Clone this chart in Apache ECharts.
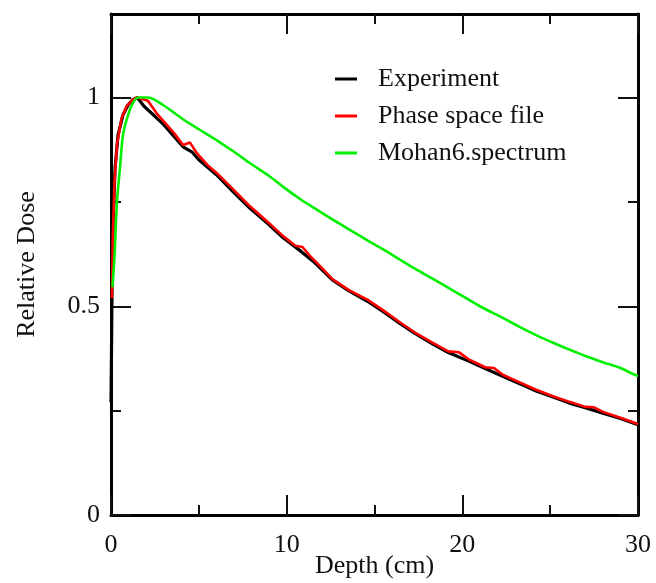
<!DOCTYPE html>
<html lang="en">
<head>
<meta charset="utf-8">
<title>Relative Dose vs Depth</title>
<script src="https://cdn.jsdelivr.net/npm/echarts@6/dist/echarts.min.js"></script>
<style>
  html, body { margin: 0; padding: 0; background: #fff; }
  #main { width: 656px; height: 583px; }
</style>
</head>
<body>
<div id="main"></div>
<script type="text/javascript">
  // depth (cm), relative dose
  var experiment = [
    [0, 0.27], [0.03, 0.40], [0.06, 0.55], [0.12, 0.70], [0.23, 0.83], [0.4, 0.91],
    [0.68, 0.958], [0.97, 0.982], [1.25, 0.995], [1.5, 1.0], [1.9, 0.978], [2.5, 0.955],
    [3.0, 0.935], [3.5, 0.911], [4.1, 0.882], [4.6, 0.870], [5.0, 0.851], [6.0, 0.815],
    [7.0, 0.772], [7.9, 0.735], [9.0, 0.695], [9.8, 0.664], [10.8, 0.632], [11.5, 0.608],
    [12.6, 0.563], [13.5, 0.538], [14.6, 0.512], [15.5, 0.487], [16.4, 0.460], [17.3, 0.435],
    [18.3, 0.410], [19.2, 0.389], [20.4, 0.368], [21.3, 0.351], [22.3, 0.332], [23.3, 0.314],
    [24.2, 0.297], [25.2, 0.282], [26.1, 0.268], [27.0, 0.257], [28.0, 0.244], [29.0, 0.231],
    [30, 0.216]
  ];
  var phaseSpace = [
    [0.05, 0.52], [0.1, 0.66], [0.2, 0.80], [0.35, 0.89], [0.6, 0.95], [0.9, 0.980],
    [1.2, 0.994], [1.5, 1.0], [2.1, 0.992], [2.6, 0.962], [3.1, 0.938], [3.6, 0.914],
    [4.1, 0.886], [4.5, 0.892], [4.9, 0.866], [5.5, 0.838], [6.0, 0.820], [7.0, 0.778],
    [7.9, 0.740], [9.0, 0.699], [9.8, 0.668], [10.5, 0.645], [10.9, 0.642], [11.3, 0.622],
    [12.0, 0.592], [12.6, 0.565], [13.5, 0.540], [14.2, 0.524], [14.6, 0.516], [15.5, 0.490],
    [16.4, 0.463], [17.3, 0.437], [18.3, 0.413], [19.2, 0.392], [19.8, 0.390], [20.4, 0.372],
    [21.3, 0.354], [21.8, 0.352], [22.3, 0.336], [23.3, 0.317], [24.2, 0.300], [25.2, 0.284],
    [26.1, 0.271], [27.0, 0.259], [27.5, 0.258], [28.0, 0.247], [29.0, 0.233], [30, 0.218]
  ];
  var mohan = [
    [0.08, 0.545], [0.2, 0.62], [0.34, 0.75], [0.51, 0.83], [0.68, 0.91], [0.97, 0.958],
    [1.25, 0.987], [1.54, 1.0], [2.1, 1.0], [2.96, 0.982], [4.1, 0.948], [5.0, 0.924],
    [6.0, 0.898], [7.0, 0.870], [7.9, 0.843], [9.0, 0.812], [9.8, 0.786], [10.76, 0.757],
    [11.5, 0.737], [12.6, 0.708], [13.6, 0.683], [14.6, 0.658], [15.5, 0.636], [16.4, 0.613],
    [17.3, 0.590], [18.3, 0.566], [19.5, 0.537], [21.0, 0.500], [22.3, 0.472], [23.2, 0.452],
    [24.2, 0.431], [25.2, 0.412], [26.1, 0.396], [27.0, 0.381], [28.0, 0.366], [29.0, 0.352],
    [29.7, 0.338], [30, 0.333]
  ];
  var seriesNames = ['Experiment', 'Phase space file', 'Mohan6.spectrum'];
  var seriesColors = ['#000000', '#ff0000', '#00ee00'];
  var xMajor = [0, 10, 20, 30];
  var xMinor = [5, 15, 25];
  var yMajor = [0, 0.5, 1];
  var yMinor = [0.25, 0.75];

  var serif = '"Liberation Serif", "DejaVu Serif", serif';
  var gridBox = { left: 111, right: 18, top: 14, bottom: 68, outerBoundsMode: 'none', containLabel: false };

  function axisOf(kind, pos, gridIndex, ticks, len, labels) {
    var isX = kind === 'x';
    return {
      type: 'value',
      gridIndex: gridIndex,
      position: pos,
      min: 0,
      max: isX ? 30 : 1.2,
      interval: isX ? 10 : 0.5,
      splitLine: { show: false },
      axisLine: { show: gridIndex === 0, onZero: false, lineStyle: { color: '#000', width: 3 } },
      axisTick: {
        show: true, inside: true, length: len, customValues: ticks,
        lineStyle: { color: '#111', width: 2 }
      },
      axisLabel: labels ? {
        show: true, customValues: labels, color: '#111', fontFamily: serif, fontSize: 26,
        margin: isX ? 17 : 11,
        formatter: function (v) { return labels.indexOf(v) >= 0 ? String(v) : ''; }
      } : { show: false }
    };
  }

  var myChart = echarts.init(document.getElementById('main'));

  var xAxes = [
    axisOf('x', 'bottom', 0, xMajor, 20, xMajor),
    axisOf('x', 'top', 0, xMajor, 20, null),
    axisOf('x', 'bottom', 1, xMinor, 10, null),
    axisOf('x', 'top', 1, xMinor, 10, null)
  ];
  xAxes[0].name = 'Depth (cm)';
  xAxes[0].nameLocation = 'middle';
  xAxes[0].nameGap = 38;
  xAxes[0].nameMoveOverlap = false;
  xAxes[0].nameTextStyle = { color: '#111', fontFamily: serif, fontSize: 26 };

  var yAxes = [
    axisOf('y', 'left', 0, yMajor, 20, yMajor),
    axisOf('y', 'right', 0, yMajor, 20, null),
    axisOf('y', 'left', 1, yMinor, 10, null),
    axisOf('y', 'right', 1, yMinor, 10, null)
  ];
  yAxes[0].name = 'Relative Dose';
  yAxes[0].nameLocation = 'middle';
  yAxes[0].nameGap = 71;
  yAxes[0].nameMoveOverlap = false;
  yAxes[0].nameTextStyle = { color: '#111', fontFamily: serif, fontSize: 26 };

  var allData = [experiment, phaseSpace, mohan];
  var series = [];
  for (var i = 0; i < allData.length; i++) {
    series.push({
      name: seriesNames[i],
      type: 'line',
      xAxisIndex: 0,
      yAxisIndex: 0,
      data: allData[i],
      symbol: 'none',
      showSymbol: false,
      smooth: i === 2 ? 0.3 : false,
      color: seriesColors[i],
      lineStyle: { color: seriesColors[i], width: i === 0 ? 3.2 : 2.6 }
    });
  }

  var option = {
    animation: false,
    backgroundColor: '#fff',
    grid: [gridBox, gridBox],
    legend: {
      orient: 'vertical',
      left: 330,
      top: 61,
      icon: 'rect',
      itemWidth: 22,
      itemHeight: 3,
      itemGap: 11,
      data: seriesNames,
      textStyle: { color: '#111', fontFamily: serif, fontSize: 26, lineHeight: 26, padding: [0, 0, 0, 16] }
    },
    xAxis: xAxes,
    yAxis: yAxes,
    series: series
  };
  myChart.setOption(option);
</script>
</body>
</html>
